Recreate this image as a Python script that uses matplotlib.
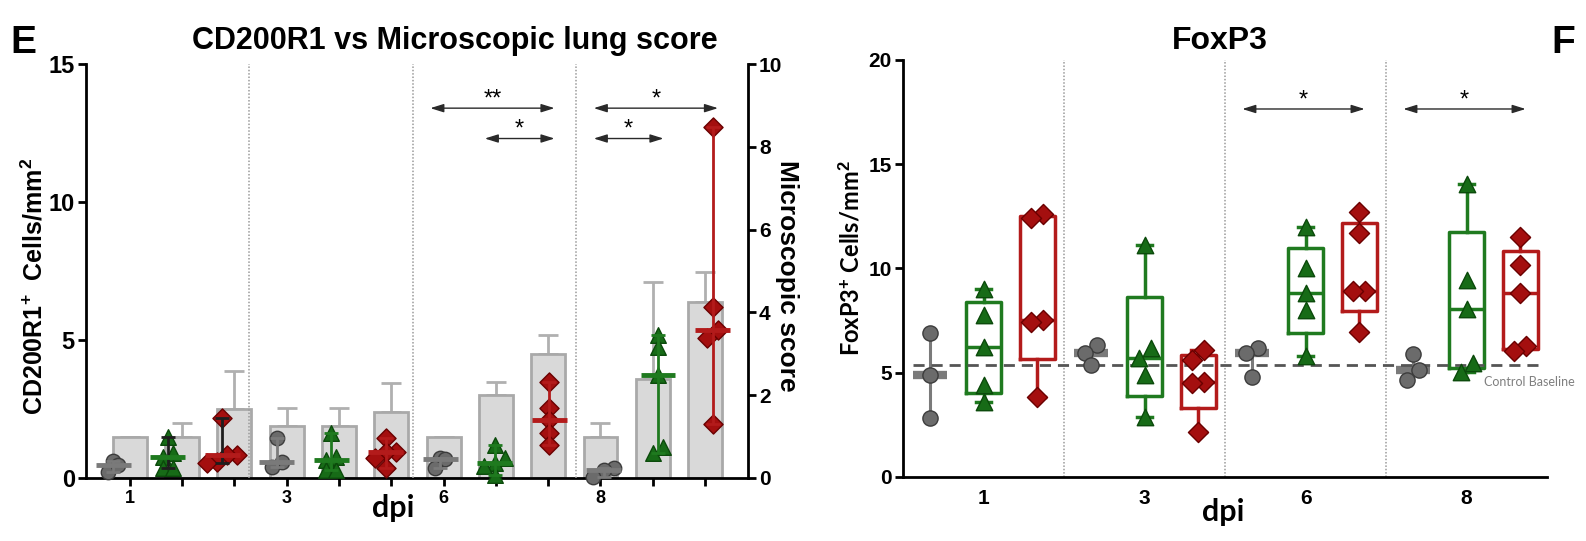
import numpy as np
import matplotlib
matplotlib.use("Agg")
import matplotlib.pyplot as plt
from matplotlib import font_manager

# ---- data -------------------------------------------------------------
days = ["1", "3", "6", "8"]

# microscopic lung score (bars, right axis): mean and upper SD
score_ctrl = [1.0, 1.25, 1.0, 1.0]
score_ctrl_sd = [0.0, 0.45, 0.0, 0.33]
score_a = [1.0, 1.25, 2.0, 2.4]
score_a_sd = [0.33, 0.45, 0.33, 2.33]
score_b = [1.67, 1.6, 3.0, 4.25]
score_b_sd = [0.92, 0.7, 0.45, 0.72]

# CD200R1+ cells/mm2 per animal
cd200_ctrl = [[0.63, 0.23, 0.47], [1.44, 0.59, 0.41], [0.71, 0.68, 0.35], [0.35, 0.3, 0.05]]
cd200_a = [[1.5, 0.9, 0.75, 0.35, 0.35], [1.62, 0.77, 0.65, 0.29, 0.29],
           [1.2, 0.71, 0.55, 0.45, 0.1], [5.18, 4.76, 3.73, 1.13, 0.9]]
cd200_b = [[2.17, 0.83, 0.83, 0.58, 0.54], [1.44, 0.95, 0.95, 0.72, 0.36],
           [3.49, 2.55, 2.1, 1.62, 1.2], [12.7, 6.2, 5.36, 5.07, 1.96]]

# FoxP3+ cells/mm2 per animal
fox_ctrl = [[6.92, 4.89, 2.81], [6.33, 5.93, 5.37], [6.17, 5.93, 4.81], [5.88, 5.13, 4.65]]
fox_a = [[9.0, 7.77, 6.25, 4.41, 3.61], [11.13, 6.17, 5.69, 4.89, 2.89],
         [12.0, 10.0, 8.81, 8.01, 5.8], [14.05, 9.45, 8.06, 5.45, 5.05]]
fox_b = [[12.61, 12.41, 7.53, 7.45, 3.85], [6.09, 5.61, 4.57, 4.49, 2.17],
         [12.72, 11.69, 8.94, 8.94, 6.97], [11.53, 10.17, 8.81, 6.28, 6.04]]
fox_baseline = 5.35

# significance: (day index, from group, to group, label)
cd200_sig = [(2, 0, 2, "**"), (2, 1, 2, "*"), (3, 0, 2, "*"), (3, 0, 1, "*")]
fox_sig = [(2, 0, 2, "*"), (3, 0, 2, "*")]

# ---- styles -----------------------------------------------------------
names = {f.name for f in font_manager.fontManager.ttflist}
ARIAL = "Liberation Sans Narrow" if "Liberation Sans Narrow" in names else "Liberation Sans"
CALIBRI = "Lato"
plt.rcParams["mathtext.fontset"] = "custom"
plt.rcParams["mathtext.rm"] = "Liberation Sans:bold"
plt.rcParams["mathtext.it"] = "Liberation Sans:bold"
plt.rcParams["mathtext.bf"] = "Liberation Sans:bold"

GREY, GREEN, RED = "#6b6b6b", "#176b17", "#a40f0f"
EDGE = {GREY: "#3c3c3c", GREEN: "#0b4a0b", RED: "#6a0000"}
LINE = {GREY: "#7a7a7a", GREEN: "#1f7a1f", RED: "#b31b1b"}
MARK = {GREY: "o", GREEN: "^", RED: "D"}
MSIZE = {GREY: 120, GREEN: 140, RED: 105}


def swarm(ax, x0, vals, diam):
    """Spread points with similar values sideways, rows centred on x0."""
    vals = np.asarray(vals, float)
    pix = ax.transData.transform(np.column_stack([np.full(len(vals), x0), vals]))
    order = np.argsort(vals)
    rows, cur = [], [order[0]]
    for i in order[1:]:
        if abs(pix[i, 1] - pix[cur[0], 1]) < diam * 0.8:
            cur.append(i)
        else:
            rows.append(cur)
            cur = [i]
    rows.append(cur)
    xs = np.zeros(len(vals))
    inv = ax.transData.inverted()
    for row in rows:
        n = len(row)
        for k, i in enumerate(row):
            dx = (k - (n - 1) / 2) * diam * 0.85
            xs[i] = inv.transform((pix[i, 0] + dx, pix[i, 1]))[0]
    return xs


def sig_arrows(ax, sig, y_levels):
    for n, (g, a, b, lab) in enumerate(sig):
        y = y_levels[n]
        x0, x1 = g * 3 + a - 0.18, g * 3 + b + 0.1
        ax.annotate("", xy=(x1, y), xytext=(x0, y),
                    arrowprops=dict(arrowstyle="<|-|>,head_length=0.8,head_width=0.25",
                                    color="#2a2a2a", lw=1.0, shrinkA=0, shrinkB=0))
        ax.annotate(lab, xy=((x0 + x1) / 2, y), xytext=(0, 2), textcoords="offset points",
                    ha="center", va="baseline", fontsize=17, family="Liberation Sans")


def bold_ticks(ax, which="both"):
    labels = []
    if which in ("both", "x"):
        labels += ax.get_xticklabels()
    if which in ("both", "y"):
        labels += ax.get_yticklabels()
    for t in labels:
        t.set_fontweight("bold")
        t.set_family(ARIAL)


fig = plt.figure(figsize=(15.86, 5.41), dpi=100)

# ---- panel E: CD200R1 vs microscopic score ----------------------------
rect = [0.0542, 0.1165, 0.4174, 0.7652]
ax_bar = fig.add_axes(rect)
ax_pts = fig.add_axes(rect, facecolor="none")

xb = np.arange(12)
heights = [v for g in range(4) for v in (score_ctrl[g], score_a[g], score_b[g])]
sds = [v for g in range(4) for v in (score_ctrl_sd[g], score_a_sd[g], score_b_sd[g])]
ax_bar.bar(xb, heights, width=0.65, color="#d9d9d9", edgecolor="#a9a9a9", linewidth=2, zorder=2)
ax_bar.errorbar(xb, heights, yerr=[np.zeros(12), sds], fmt="none", ecolor="#b0b0b0",
                elinewidth=2, capsize=7, capthick=2, zorder=1)
ax_bar.set_xlim(-0.84, 11.82)
ax_bar.set_ylim(0, 10)
ax_bar.yaxis.tick_right()
ax_bar.set_yticks(range(0, 11, 2))
ax_bar.set_xticks(xb)
ax_bar.set_xticklabels([days[i // 3] if i % 3 == 0 else "" for i in xb])
for s in ("left", "top"):
    ax_bar.spines[s].set_visible(False)
for s in ("right", "bottom"):
    ax_bar.spines[s].set_linewidth(2)
ax_bar.tick_params(axis="both", direction="out", length=6, width=2)
ax_bar.tick_params(axis="y", labelsize=15, pad=2)
ax_bar.tick_params(axis="x", labelsize=13, pad=3)
bold_ticks(ax_bar)

ax_pts.set_xlim(-0.5, 11.65)
ax_pts.set_ylim(0, 15)
ax_pts.set_xticks([])
ax_pts.set_yticks([0, 5, 10, 15])
for s in ("right", "top", "bottom"):
    ax_pts.spines[s].set_visible(False)
ax_pts.spines["left"].set_linewidth(2)
ax_pts.tick_params(axis="y", direction="out", length=6, width=2, labelsize=17, pad=2)
bold_ticks(ax_pts, "y")
for xd in (2.5, 5.5, 8.5):
    ax_pts.axvline(xd, color="#9a9a9a", lw=1.1, ls=(0, (1, 1.2)), zorder=0)

for g in range(4):
    for k, (col, grp) in enumerate(((GREY, cd200_ctrl), (GREEN, cd200_a), (RED, cd200_b))):
        x0 = g * 3 + k
        v = np.array(grp[g])
        med = np.median(v)
        ecol = "#1e1e1e" if (g == 0 and k > 0) else LINE[col]
        ax_pts.scatter(swarm(ax_pts, x0, v, 12), v, s=MSIZE[col] * 0.9, marker=MARK[col],
                       facecolor=col, edgecolor=EDGE[col], linewidth=1, zorder=4, clip_on=False)
        ax_pts.errorbar([x0], [med], yerr=[[med - v.min()], [v.max() - med]], fmt="none",
                        ecolor=ecol, elinewidth=2, capsize=5, capthick=2, zorder=5)
        ax_pts.hlines(med, x0 - 0.32, x0 + 0.32, color=LINE[col], lw=3.5, zorder=6)

sig_arrows(ax_pts, cd200_sig, [13.4, 12.3, 13.4, 12.3])

# ---- panel F: FoxP3 ----------------------------------------------------
ax_f = fig.add_axes([0.5694, 0.1183, 0.4061, 0.7708])
ax_f.set_xlim(-0.5, 11.5)
ax_f.set_ylim(0, 20)
ax_f.set_yticks([0, 5, 10, 15, 20])
ax_f.set_xticks([1, 4, 7, 10])
ax_f.set_xticklabels(days)
for s in ("right", "top"):
    ax_f.spines[s].set_visible(False)
for s in ("left", "bottom"):
    ax_f.spines[s].set_linewidth(2)
ax_f.tick_params(axis="y", direction="out", length=6, width=2, labelsize=15, pad=2)
ax_f.tick_params(axis="x", length=0, labelsize=15, pad=9)
bold_ticks(ax_f)
for xd in (2.5, 5.5, 8.5):
    ax_f.axvline(xd, color="#9a9a9a", lw=1.1, ls=(0, (1, 1.2)), zorder=0)

ax_f.hlines(fox_baseline, -0.32, 11.44, color="#555555", lw=2, linestyles=(0, (4, 2.5)), zorder=3)
ax_f.text(10.32, fox_baseline - 0.8, "Control Baseline", color="#7f7f7f", fontsize=9,
          family=CALIBRI, va="center", ha="left", clip_on=False)

for g in range(4):
    for k, (col, grp) in enumerate(((GREY, fox_ctrl), (GREEN, fox_a), (RED, fox_b))):
        x0 = g * 3 + k
        v = np.array(grp[g])
        q1, med, q3 = np.percentile(v, [25, 50, 75], method="weibull")
        if col == GREY:
            ax_f.vlines(x0, v.min(), v.max(), color=LINE[col], lw=2.2, zorder=2)
            ax_f.hlines(med, x0 - 0.32, x0 + 0.32, color=LINE[col], lw=6, zorder=2)
        else:
            st = dict(med=med, q1=q1, q3=q3, whislo=v.min(), whishi=v.max())
            lp = dict(color=LINE[col], lw=2.5)
            ax_f.bxp([st], positions=[x0], widths=0.65, showfliers=False, boxprops=lp,
                     whiskerprops=lp, capprops=lp, medianprops=lp, capwidths=0.28,
                     manage_ticks=False, zorder=2)
        ax_f.scatter(swarm(ax_f, x0, v, 14), v, s=MSIZE[col], marker=MARK[col],
                     facecolor=col, edgecolor=EDGE[col], linewidth=1, zorder=4)

sig_arrows(ax_f, fox_sig, [17.65, 17.65])

# ---- titles, axis titles, panel letters --------------------------------
fig.text(0.287, 0.924, "CD200R1 vs Microscopic lung score", ha="center", va="center",
         fontsize=22, fontweight="bold", family=ARIAL)
fig.text(0.769, 0.924, "FoxP3", ha="center", va="center", fontsize=23,
         fontweight="bold", family=ARIAL)
fig.text(0.0145, 0.92, "E", ha="center", va="center", fontsize=28, fontweight="bold",
         family="Liberation Sans")
fig.text(0.9855, 0.92, "F", ha="center", va="center", fontsize=28, fontweight="bold",
         family="Liberation Sans")
fig.text(0.0215, 0.471, "CD200R1$^{+}$  Cells/mm$^{2}$", rotation=90, ha="center",
         va="center", fontsize=18, fontweight="bold", family="Liberation Sans")
fig.text(0.496, 0.49, "Microscopic score", rotation=-90, ha="center", va="center",
         fontsize=19, fontweight="bold", family="Liberation Sans")
fig.text(0.5365, 0.523, "FoxP3$^{+}$ Cells/mm$^{2}$", rotation=90, ha="center",
         va="center", fontsize=17, fontweight="bold", family=CALIBRI)
fig.text(0.248, 0.045, "dpi", ha="center", va="baseline", fontsize=22, fontweight="bold",
         family=CALIBRI)
fig.text(0.771, 0.037, "dpi", ha="center", va="baseline", fontsize=22, fontweight="bold",
         family=CALIBRI)

fig.savefig("out.png", dpi=100)
